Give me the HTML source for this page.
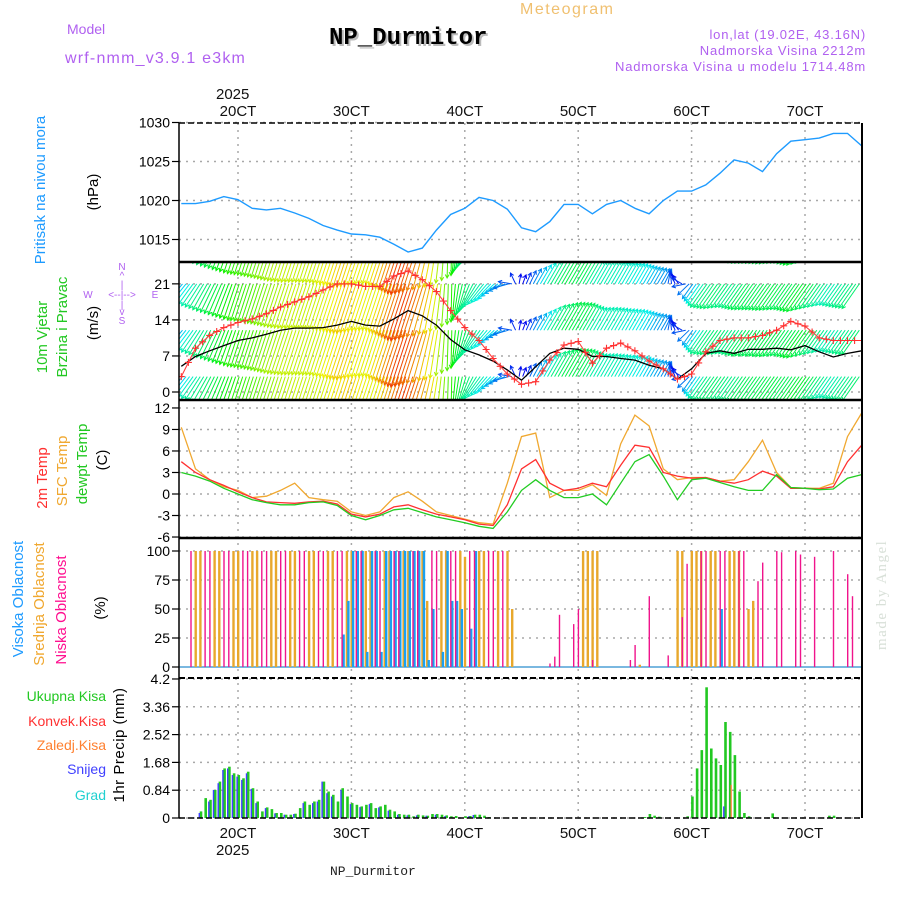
<!DOCTYPE html>
<html><head><meta charset="utf-8"><title>Meteogram NP_Durmitor</title>
<style>
html,body{margin:0;padding:0;background:#fff;}
svg{display:block;font-family:"Liberation Sans",sans-serif;}
</style></head>
<body>
<svg id="chart" width="900" height="900" viewBox="0 0 900 900" xmlns="http://www.w3.org/2000/svg">
<defs>
<clipPath id="clipWind"><rect x="179" y="263" width="683" height="136"/></clipPath>
</defs>
<rect x="0" y="0" width="900" height="900" fill="#fff"/>
<text x="520" y="14" font-size="16" fill="#f0c070" letter-spacing="1.5">Meteogram</text>
<text x="67" y="34" font-size="14" fill="#b060f0">Model</text>
<text x="65" y="63" font-size="16" fill="#b060f0" letter-spacing="1.2">wrf-nmm_v3.9.1 e3km</text>
<text x="331" y="46" font-size="24" font-weight="bold" fill="#bbb" font-family="Liberation Mono,monospace">NP_Durmitor</text>
<text x="329" y="44" font-size="24" font-weight="bold" fill="#000" font-family="Liberation Mono,monospace">NP_Durmitor</text>
<text x="866" y="39" font-size="13" fill="#b060f0" text-anchor="end" letter-spacing="0.8">lon,lat (19.02E, 43.16N)</text>
<text x="866" y="55" font-size="13" fill="#b060f0" text-anchor="end" letter-spacing="0.8">Nadmorska Visina 2212m</text>
<text x="866" y="71" font-size="13" fill="#b060f0" text-anchor="end" letter-spacing="0.8">Nadmorska Visina u modelu 1714.48m</text>
<text x="216" y="99" font-size="15" fill="#111">2025</text>
<text x="216" y="855" font-size="15" fill="#111">2025</text>
<text x="330" y="875" font-size="13" fill="#222" font-family="Liberation Mono,monospace">NP_Durmitor</text>
<text transform="translate(886,650) rotate(-90)" font-size="15" fill="#d8e0d8" font-family="Liberation Serif,serif" letter-spacing="1.5">made by Angel</text>
<text transform="translate(45,190) rotate(-90)" text-anchor="middle" font-size="15" fill="#1e9bff">Pritisak na nivou mora</text>
<text transform="translate(98,192) rotate(-90)" text-anchor="middle" font-size="15" fill="#000">(hPa)</text>
<text transform="translate(47,337) rotate(-90)" text-anchor="middle" font-size="15" fill="#22c822">10m Vjetar</text>
<text transform="translate(67,327) rotate(-90)" text-anchor="middle" font-size="15" fill="#22c822">Brzina i Pravac</text>
<text transform="translate(98,323) rotate(-90)" text-anchor="middle" font-size="15" fill="#000">(m/s)</text>
<g fill="#b060f0" font-size="10" text-anchor="middle">
<text x="122" y="270">N</text><text x="122" y="279">^</text><text x="122" y="288">|</text>
<text x="88" y="298">W</text><text x="122" y="298">&lt;--|--&gt;</text><text x="155" y="298">E</text>
<text x="122" y="308">|</text><text x="122" y="315">v</text><text x="122" y="324">S</text>
</g>
<text transform="translate(47,478) rotate(-90)" text-anchor="middle" font-size="15" fill="#ff3030">2m Temp</text>
<text transform="translate(67,471) rotate(-90)" text-anchor="middle" font-size="15" fill="#f0a830">SFC Temp</text>
<text transform="translate(87,464) rotate(-90)" text-anchor="middle" font-size="15" fill="#22c822">dewpt Temp</text>
<text transform="translate(107,460) rotate(-90)" text-anchor="middle" font-size="15" fill="#000">(C)</text>
<text transform="translate(23,599) rotate(-90)" text-anchor="middle" font-size="15" fill="#1e9bff">Visoka Oblacnost</text>
<text transform="translate(44,604) rotate(-90)" text-anchor="middle" font-size="15" fill="#f0a830">Srednja Oblacnost</text>
<text transform="translate(66,610) rotate(-90)" text-anchor="middle" font-size="15" fill="#ff1090">Niska Oblacnost</text>
<text transform="translate(105,608) rotate(-90)" text-anchor="middle" font-size="15" fill="#000">(%)</text>
<text transform="translate(124,745) rotate(-90)" text-anchor="middle" font-size="15" fill="#000" letter-spacing="0.5">1hr Precip (mm)</text>
<g font-size="14" text-anchor="end">
<text x="106" y="701" fill="#22c822">Ukupna Kisa</text>
<text x="106" y="726" fill="#ff3030">Konvek.Kisa</text>
<text x="106" y="750" fill="#ff8030">Zaledj.Kisa</text>
<text x="106" y="774" fill="#4040ff">Snijeg</text>
<text x="106" y="800" fill="#20d0d0">Grad</text>
</g>
<g id="grid"></g>
<g id="marks"></g>
<g id="frame"></g>
</svg>
<script>
const hours3 = [-12,-9,-6,-3,0,3,6,9,12,15,18,21,24,27,30,33,36,39,42,45,48,51,54,57,60,63,66,69,72,75,78,81,84,87,90,93,96,99,102,105,108,111,114,117,120,123,126,129,132];
const dayLabels = ['20CT','30CT','40CT','50CT','60CT','70CT'];
const dayHours = [0,24,48,72,96,120];
const pressure = [1019.6,1019.6,1019.9,1020.5,1020.1,1019.0,1018.8,1019.0,1018.4,1017.7,1016.8,1016.2,1015.7,1015.6,1015.3,1014.4,1013.4,1013.9,1016.2,1018.2,1019.0,1020.4,1020.0,1018.9,1016.5,1016.0,1017.3,1019.5,1019.5,1018.3,1019.5,1020.0,1019.0,1018.3,1020.0,1021.2,1021.2,1022.0,1023.5,1025.2,1024.8,1023.7,1026.0,1027.6,1027.8,1028.0,1028.6,1028.6,1027.0];
const pressureTicks = [1015,1020,1025,1030];
const windSpeed = [5,6.9,8,9,10,10.5,11.2,12,12.4,12.4,12.5,13,13.7,13,12.8,14.2,15.8,14.8,13,10.2,8.2,7.2,6,4.3,2.3,4.9,7.5,8.5,8.3,6.9,6.9,6.5,6.2,5.2,4.5,2.5,4.5,7.5,8.0,7.5,8.3,8.3,8.5,8.2,9,7.8,6.8,7.5,8];
const windGust = [3,8.5,11,12.5,13.5,14.2,15.2,16.5,17.5,18.5,19.8,21,21,20.5,20.5,22.5,23.5,21.8,19.5,15.8,12.5,10,6.5,3.5,1.5,2,6.2,9.1,9.8,5.6,8.5,9.5,8,6,4.5,2.5,3.5,7.8,10,10.5,10.5,11,12,13.7,12.8,10.5,10,10,10];
const windFromDir = [40,35,28,22,18,18,18,18,18,18,18,18,18,18,18,18,18,18,10,0,15,35,45,70,200,210,210,210,210,210,210,210,210,210,210,150,35,35,35,35,35,35,35,35,35,35,35,35,35];
const windTicks = [0,7,14,21];
const windArrowLevels = [3,12,21,30];
const temp2m = [4.5,3.0,2.0,1.2,0.3,-0.5,-1.1,-1.2,-1.3,-1.1,-1.0,-1.4,-2.8,-3.2,-2.8,-1.8,-1.5,-2.2,-2.8,-3.2,-3.6,-4.2,-4.4,-1.5,3.5,4.8,1.5,0.5,0.8,1.5,1.0,4.0,6.8,6.5,3.0,2.5,2.2,2.3,1.8,1.5,2.0,3.2,2.5,0.8,0.8,0.7,1.0,4.5,6.8];
const tempSfc = [9.3,3.5,2.0,1.0,0.5,-0.5,-0.3,0.5,1.5,-0.5,-0.8,-1.0,-2.5,-3.0,-2.5,-0.5,0.3,-1.0,-2.5,-3.0,-3.5,-4.0,-4.2,1.5,8.0,8.5,-0.5,0.5,0.5,1.3,-0.2,7.0,11.0,9.5,3.5,2.0,2.3,2.3,1.8,2.0,4.5,7.5,3.0,0.9,0.8,0.8,1.5,8.0,11.3];
const tempDew = [3.0,2.5,1.8,0.8,0.0,-0.8,-1.2,-1.5,-1.5,-1.2,-1.1,-1.6,-3.0,-3.6,-3.0,-2.2,-2.0,-2.6,-3.2,-3.6,-4.0,-4.5,-4.8,-2.5,0.5,2.0,0.5,-0.5,-0.5,0.0,-1.5,1.5,4.5,5.5,2.5,-0.8,2.0,2.2,1.6,1.0,0.5,0.5,2.7,0.9,0.8,0.6,0.7,2.2,2.7];
const tempTicks = [-6,-3,0,3,6,9,12];
const lowCloudHours = [-10,-7,-6,-3,-2,1,2,5,6,9,10,13,14,17,18,21,22,25,26,29,30,33,34,37,38,41,42,45,46,49,50,53,54,56,66,67,68,71,72,75,83,84,87,91,94,95,98,99,102,103,106,107,110,111,114,115,118,119,122,126,129,130];
const lowCloudValues = [100,100,100,100,100,100,100,100,100,100,100,100,100,100,100,100,100,100,100,100,100,100,100,100,100,100,100,100,100,100,100,100,100,100,3,9,45,37,50,6,6,19,61,10,43,89,100,100,100,100,100,100,74,90,100,99,100,97,95,100,80,61];
const midCloudHours = [-9,-8,-5,-4,-1,0,3,4,7,8,11,12,15,16,19,20,23,24,27,28,31,32,35,36,39,40,43,44,47,48,51,52,55,57,58,73,74,75,76,85,93,94,96,97,98,100,101,104,105,106,108,109];
const midCloudValues = [100,100,100,100,100,100,100,100,100,100,100,100,100,100,100,100,100,100,100,100,100,100,100,100,100,57,100,100,100,95,100,100,100,100,50,100,100,100,100,2,100,100,100,100,100,100,100,100,100,100,50,57];
const highCloudHours = [22,23,24,25,26,27,28,29,30,31,32,33,34,35,36,37,38,39,40,41,43,44,45,46,47,49,50,102];
const highCloudValues = [28,57,100,100,100,13,100,100,13,100,100,100,100,100,100,100,100,100,6,50,13,100,57,57,50,33,100,50];
const cloudTicks = [0,25,50,75,100];
const precipHours = [-8,-7,-6,-5,-4,-3,-2,-1,0,1,2,3,4,5,6,7,8,9,10,11,12,13,14,15,16,17,18,19,20,21,22,23,24,25,26,27,28,29,30,31,32,33,34,35,36,37,38,39,40,41,42,43,44,45,46,48,49,50,51,52,53,86,87,88,89,95,96,97,98,99,100,101,102,103,104,105,106,107,108,113,125,126];
const precipTotal = [0.2,0.6,0.55,0.85,1.1,1.5,1.55,1.35,1.3,1.2,1.4,0.9,0.5,0.2,0.32,0.27,0.15,0.15,0.1,0.1,0.13,0.3,0.5,0.4,0.5,0.55,1.1,0.8,0.7,0.5,0.9,0.65,0.45,0.4,0.35,0.4,0.45,0.3,0.35,0.4,0.25,0.2,0.12,0.1,0.1,0.05,0.1,0.08,0.07,0.12,0.12,0.1,0.08,0.05,0.06,0.05,0.06,0.1,0.1,0.07,0.03,0.03,0.12,0.07,0.04,0.05,0.65,1.5,2.05,3.95,2.1,1.8,1.6,2.9,2.6,1.9,0.8,0.15,0.05,0.14,0.07,0.07];
const snowHours = [-8,-6,-5,-4,-3,-2,-1,0,1,2,3,4,6,8,10,12,14,16,17,18,19,20,22,24,26,28,30,32,34,36,38,40,42,44,49,50,103];
const snowValues = [0.15,0.5,0.85,1.05,1.45,1.5,1.3,1.25,1.15,1.35,0.88,0.45,0.3,0.14,0.1,0.12,0.45,0.45,0.5,1.1,0.75,0.65,0.85,0.42,0.33,0.42,0.32,0.22,0.1,0.08,0.08,0.07,0.1,0.06,0.05,0.09,0.35];
const freezingHours = [104];
const freezingValues = [1.0];
const precipTicks = [0,0.84,1.68,2.52,3.36,4.2];
const precipTickLabels = ['0','0.84','1.68','2.52','3.36','4.2'];

const X0 = 179, X1 = 862;
function xH(h){ return 238 + h*4.725; }
function yP(v){ return 122.5 + (1030 - v)*7.8; }
function yW(v){ return 392 - v*5.15; }
function yT(v){ return 494 - v*7.17; }
function yC(v){ return 667 - v*1.16; }
function yR(v){ return 818 - v*33.1; }

const NS = 'http://www.w3.org/2000/svg';
const grid = document.getElementById('grid');
const marks = document.getElementById('marks');
const frame = document.getElementById('frame');
function mk(tag, parent){ const el = document.createElementNS(NS, tag); parent.appendChild(el); return el; }
function linePath(vals, yf){
  let d=''; for(let i=0;i<hours3.length;i++){ d += (i?'L':'M') + xH(hours3[i]).toFixed(1) + ',' + yf(vals[i]).toFixed(1); } return d;
}
function interp(arr, h){
  if(h<=hours3[0]) return arr[0];
  for(let i=1;i<hours3.length;i++){ if(h<=hours3[i]){ const f=(h-hours3[i-1])/(hours3[i]-hours3[i-1]); return arr[i-1]+(arr[i]-arr[i-1])*f; } }
  return arr[arr.length-1];
}

dayHours.forEach((dh,i)=>{
  const x = xH(dh);
  const g = mk('line', grid);
  
  
  g.setAttribute('x1', x); g.setAttribute('x2', x); g.setAttribute('y1', 123); g.setAttribute('y2', 818);
  g.setAttribute('stroke', '#a8a8a8'); g.setAttribute('stroke-width', '1.5'); g.setAttribute('stroke-dasharray', '2,5');
  const t1 = mk('text', grid);
  
  
  t1.setAttribute('x', x); t1.setAttribute('y', 116); t1.setAttribute('text-anchor', 'middle'); t1.setAttribute('font-size', '15'); t1.setAttribute('fill', '#111');
  t1.textContent = dayLabels[i];
  const t2 = mk('text', grid);
  
  
  t2.setAttribute('x', x); t2.setAttribute('y', 838); t2.setAttribute('text-anchor', 'middle'); t2.setAttribute('font-size', '15'); t2.setAttribute('fill', '#111');
  t2.textContent = dayLabels[i];
});

function yTicks(vals, labels, yf, name){
  vals.forEach((v,i)=>{
    const y = yf(v);
    const g = mk('line', grid);
    
    
    g.setAttribute('x1', X0); g.setAttribute('x2', X1); g.setAttribute('y1', y); g.setAttribute('y2', y);
    g.setAttribute('stroke', '#a8a8a8'); g.setAttribute('stroke-width', '1.5'); g.setAttribute('stroke-dasharray', '2,5');
    const tk = mk('line', frame);
    
    
    tk.setAttribute('x1', 172); tk.setAttribute('x2', 179); tk.setAttribute('y1', y); tk.setAttribute('y2', y);
    tk.setAttribute('stroke', '#000'); tk.setAttribute('stroke-width', '1.2');
    const t = mk('text', frame);
    
    
    t.setAttribute('x', 170); t.setAttribute('y', y+5); t.setAttribute('text-anchor', 'end'); t.setAttribute('font-size', '14'); t.setAttribute('fill', '#000');
    t.textContent = labels[i];
  });
}
yTicks(pressureTicks, pressureTicks.map(String), yP, 'pressure-axis');
yTicks(windTicks, windTicks.map(String), yW, 'wind-axis');
yTicks(tempTicks, tempTicks.map(String), yT, 'temp-axis');
yTicks(cloudTicks, cloudTicks.map(String), yC, 'cloud-axis');
yTicks(precipTicks, precipTickLabels, yR, 'precip-axis');

const pl = mk('path', marks);


pl.setAttribute('d', linePath(pressure, yP)); pl.setAttribute('fill', 'none'); pl.setAttribute('stroke', '#1e9bff'); pl.setAttribute('stroke-width', '1.4');

const windG = mk('g', marks);


windG.setAttribute('clip-path', 'url(#clipWind)');
const dirU = hours3.map((q,i)=>Math.sin(windFromDir[i]*Math.PI/180));
const dirV = hours3.map((q,i)=>Math.cos(windFromDir[i]*Math.PI/180));
for(let h=-12.5; h<=132; h+=0.75){
  const s = interp(windSpeed, h);
  const from = Math.atan2(interp(dirU,h), interp(dirV,h));
  const toward = from + Math.PI;
  const L = s*3.8;
  const dx = Math.sin(toward)*L, dy = -Math.cos(toward)*L;
  const hue = Math.max(5, 282 - 17*s);
  const col = 'hsl(' + hue.toFixed(0) + ',100%,47%)';
  windArrowLevels.forEach(lv=>{
    const x0 = xH(h), y0 = yW(lv);
    const x1 = x0+dx, y1 = y0+dy;
    const a = Math.atan2(dy, dx);
    const hl = 4;
    const hx1 = x1 - hl*Math.cos(a-0.5), hy1 = y1 - hl*Math.sin(a-0.5);
    const hx2 = x1 - hl*Math.cos(a+0.5), hy2 = y1 - hl*Math.sin(a+0.5);
    const ar = mk('path', windG);
    
    
    ar.setAttribute('d', 'M'+x0.toFixed(1)+','+y0.toFixed(1)+'L'+x1.toFixed(1)+','+y1.toFixed(1)+'M'+hx1.toFixed(1)+','+hy1.toFixed(1)+'L'+x1.toFixed(1)+','+y1.toFixed(1)+'L'+hx2.toFixed(1)+','+hy2.toFixed(1));
    ar.setAttribute('stroke', col); ar.setAttribute('stroke-width', '1'); ar.setAttribute('fill', 'none');
  });
}
const wl = mk('path', marks);


wl.setAttribute('d', linePath(windSpeed, yW)); wl.setAttribute('fill', 'none'); wl.setAttribute('stroke', '#000'); wl.setAttribute('stroke-width', '1.3'); wl.setAttribute('clip-path', 'url(#clipWind)');
const gl = mk('path', marks);


gl.setAttribute('d', linePath(windGust, yW)); gl.setAttribute('fill', 'none'); gl.setAttribute('stroke', '#ff4040'); gl.setAttribute('stroke-width', '1.1'); gl.setAttribute('clip-path', 'url(#clipWind)');
let gd = '';
for(let h=-12; h<=132; h+=1.5){ const x=xH(h), y=yW(interp(windGust,h)); gd += 'M'+(x-3.5).toFixed(1)+','+y.toFixed(1)+'h7M'+x.toFixed(1)+','+(y-3.5).toFixed(1)+'v7'; }
const gm = mk('path', marks);


gm.setAttribute('d', gd); gm.setAttribute('stroke', '#ff3030'); gm.setAttribute('stroke-width', '1.1'); gm.setAttribute('clip-path', 'url(#clipWind)');

[[tempSfc,'#f0a830','sfc-temp-line'],[temp2m,'#ff3030','temp2m-line'],[tempDew,'#22cc22','dewpoint-line']].forEach(s=>{
  const p = mk('path', marks);
  
  
  p.setAttribute('d', linePath(s[0], yT)); p.setAttribute('fill', 'none'); p.setAttribute('stroke', s[1]); p.setAttribute('stroke-width', '1.3');
});

const cb = mk('line', marks);


cb.setAttribute('x1', X0); cb.setAttribute('x2', X1); cb.setAttribute('y1', 667); cb.setAttribute('y2', 667); cb.setAttribute('stroke', '#7ab8e0'); cb.setAttribute('stroke-width', '2');
function cloudBars(hrs, vals, color, off, w, name){
  hrs.forEach((h,i)=>{
    const r = mk('rect', marks);
    
    
    const y = yC(vals[i]);
    r.setAttribute('x', (xH(h)+off).toFixed(1)); r.setAttribute('y', y.toFixed(1)); r.setAttribute('width', w); r.setAttribute('height', Math.max(0.5, 667-y).toFixed(1)); r.setAttribute('fill', color);
  });
}
cloudBars(midCloudHours, midCloudValues, '#e8a82c', -1, 2.4, 'mid-cloud-bar');
cloudBars(highCloudHours, highCloudValues, '#1aa0f0', 0.5, 2.4, 'high-cloud-bar');
cloudBars(lowCloudHours, lowCloudValues, '#f0148c', -0.5, 1.4, 'low-cloud-bar');

function precipBars(hrs, vals, color, off, w, name){
  hrs.forEach((h,i)=>{
    const r = mk('rect', marks);
    
    
    const y = yR(vals[i]);
    r.setAttribute('x', (xH(h)+off).toFixed(1)); r.setAttribute('y', y.toFixed(1)); r.setAttribute('width', w); r.setAttribute('height', Math.max(0.5, 818-y).toFixed(1)); r.setAttribute('fill', color);
  });
}
precipBars(precipHours, precipTotal, '#22c822', -0.5, 2.6, 'total-precip-bar');
precipBars(snowHours, snowValues, '#4040ff', -1.6, 1.4, 'snow-bar');
precipBars(freezingHours, freezingValues, '#ff8030', 1.2, 1.2, 'freezing-rain-bar');

function fl(x1,y1,x2,y2,w,dash,name){
  const l = mk('line', frame);
  
  
  l.setAttribute('x1', x1); l.setAttribute('y1', y1); l.setAttribute('x2', x2); l.setAttribute('y2', y2);
  l.setAttribute('stroke', '#000'); l.setAttribute('stroke-width', w);
  if(dash) l.setAttribute('stroke-dasharray', dash);
}
fl(X0,123,X0,818,1.5,null,'left-axis');
fl(X1,123,X1,818,2,null,'right-axis');
fl(X0,123,X1,123,1.5,'6,3','top-border');
fl(X0,262,X1,262,2.5,null,'panel-divider-wind');
fl(X0,400,X1,400,2.5,null,'panel-divider-temp');
fl(X0,538,X1,538,2.5,null,'panel-divider-cloud');
fl(X0,678,X1,678,2,'6,3','panel-divider-precip');
fl(X0,818,X1,818,1.5,'6,3','bottom-border');
</script>
</body></html>
